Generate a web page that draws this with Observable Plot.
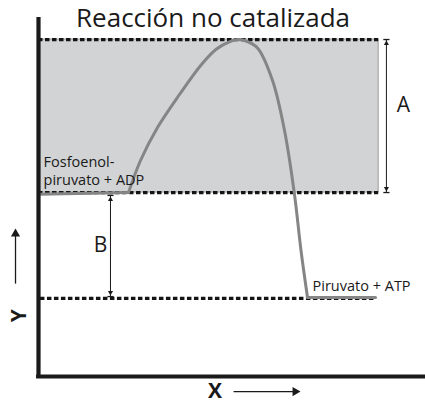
<!DOCTYPE html>
<html><head><meta charset="utf-8">
<script src="https://cdn.jsdelivr.net/npm/d3@7"></script>
<script src="https://cdn.jsdelivr.net/npm/@observablehq/plot@0.6"></script>
<style>html,body{margin:0;padding:0;background:#fff} svg{display:block}</style>
</head><body><div id="chart"></div>
<script>
// --- Data (reaction coordinate units 0..100, energy units 0..100) ---
const title = "Reacción no catalizada";
const progress = [0, 23.26, 26.36, 30.75, 36.43, 42.12, 46.0, 49.61, 51.42,
                  53.23, 56.59, 60.47, 63.57, 66.15, 67.83, 69.51, 87.08];
const energy   = [50.6, 51.11, 60.00, 69.17, 78.33, 86.67, 90.97, 93.06, 93.61,
                  93.33, 91.25, 82.22, 68.33, 50.56, 35.00, 21.94, 21.94];

const levelNames  = ["Estado de transición", "Fosfoenol-\npiruvato + ADP", "Piruvato + ATP"];
const levelEnergy = [93.6, 51.1, 21.7];
const levelStart  = [0, 0, 0.5];
const levelEnd    = [87.9, 87.9, 87.1];

const bracketNames  = ["A", "B"];
const bracketX      = [89.9, 18.6];
const bracketTop    = [93.6, 50.3];
const bracketBottom = [51.1, 22.2];
const bracketLabelX = [94.3, 16.0];
const bracketLabelY = [75.3, 36.4];

const axisLabels = ["Y", "X"];

// --- Build ---
const pts = progress.map((x, i) => ({x, y: energy[i]}));
const n = pts.length;
const startSeg = pts.slice(0, 2);          // reactant plateau
const arcSeg = pts.slice(1, n - 1);        // activation hump
const endSeg = pts.slice(n - 2);           // product plateau
const levels = levelEnergy.map((y, i) => ({y, x1: levelStart[i], x2: levelEnd[i], name: levelNames[i]}));
const brackets = bracketNames.map((nm, i) => ({n: nm, x: bracketX[i], top: bracketTop[i], bottom: bracketBottom[i], lx: bracketLabelX[i], ly: bracketLabelY[i]}));

const lineStyle = {x: "x", y: "y", stroke: "#858585", strokeWidth: 3, strokeLinejoin: "round"};

const chart = Plot.plot({
  width: 425, height: 404,
  marginLeft: 38, marginRight: 0, marginTop: 16, marginBottom: 28,
  x: {domain: [0, 100], axis: null},
  y: {domain: [0, 100], axis: null},
  style: {fontFamily: "'Open Sans', sans-serif", background: "white", color: "#1a1a1a"},
  marks: [
    Plot.rect([levels[0]], {x1: 0, x2: levelEnd[0], y1: levelEnergy[1], y2: levelEnergy[0], fill: "#d1d3d4", stroke: "#9b9b9b", strokeWidth: 1}),
    Plot.ruleY(levels, {y: "y", x1: "x1", x2: "x2", stroke: "#141414", strokeWidth: 3.2, strokeDasharray: "4.5,2.5"}),
    Plot.line(startSeg, lineStyle),
    Plot.line(arcSeg, {...lineStyle, curve: "catmull-rom"}),
    Plot.line(endSeg, lineStyle),
    Plot.ruleX([0], {y1: -0.3, y2: 99.7, stroke: "#1a1a1a", strokeWidth: 4.2}),
    Plot.ruleY([0], {x1: -0.5, x2: 100, stroke: "#1a1a1a", strokeWidth: 4.2}),
    Plot.link(brackets, {x1: "x", x2: "x", y1: "top", y2: "bottom", stroke: "#1a1a1a", strokeWidth: 1}),
    Plot.link(brackets, {x1: d => d.x - 0.8, x2: d => d.x + 0.8, y1: "top", y2: "top", stroke: "#1a1a1a", strokeWidth: 1.3}),
    Plot.link(brackets, {x1: d => d.x - 0.8, x2: d => d.x + 0.8, y1: "bottom", y2: "bottom", stroke: "#1a1a1a", strokeWidth: 1.3}),
    Plot.dot(brackets, {x: "x", y: "top", symbol: "triangle", r: 1.9, fill: "#1a1a1a", stroke: null, dy: 4}),
    Plot.dot(brackets, {x: "x", y: "bottom", symbol: "triangle", r: 1.9, rotate: 180, fill: "#1a1a1a", stroke: null, dy: -4}),
    Plot.text(brackets, {x: "lx", y: "ly", text: "n", fontSize: 21, fill: "#1a1a1a"}),
    Plot.text([title], {x: 45.1, y: 99.3, text: d => d, fontSize: 26, fill: "#1a1a1a"}),
    Plot.text([levelNames[1]], {x: 1.3, y: 57.2, text: d => d, fontSize: 14.5, textAnchor: "start", lineHeight: 1.25, fill: "#1a1a1a"}),
    Plot.text([levelNames[2]], {x: 70.8, y: 25.0, text: d => d, fontSize: 14.5, textAnchor: "start", fill: "#1a1a1a"}),
    Plot.text([axisLabels[0]], {x: -4.9, y: 16.9, text: d => d, rotate: -90, fontSize: 21, fontWeight: "bold", fill: "#1a1a1a"}),
    Plot.text([axisLabels[1]], {x: 45.6, y: -4.2, text: d => d, fontSize: 21, fontWeight: "bold", fill: "#1a1a1a"}),
    Plot.link([0], {x1: -5.94, x2: -5.94, y1: 25.8, y2: 39.5, stroke: "#1a1a1a", strokeWidth: 1.3}),
    Plot.dot([0], {x: -5.94, y: 41.1, symbol: "triangle", r: 3.4, fill: "#1a1a1a", stroke: null, dy: 5.3}),
    Plot.link([0], {x1: 50.4, x2: 66.3, y1: -4.2, y2: -4.2, stroke: "#1a1a1a", strokeWidth: 1.3}),
    Plot.dot([0], {x: 67.7, y: -4.2, symbol: "triangle", r: 3.4, rotate: 90, fill: "#1a1a1a", stroke: null, dx: -5.3})
  ]
});
document.getElementById("chart").appendChild(chart);
</script>
</body></html>
